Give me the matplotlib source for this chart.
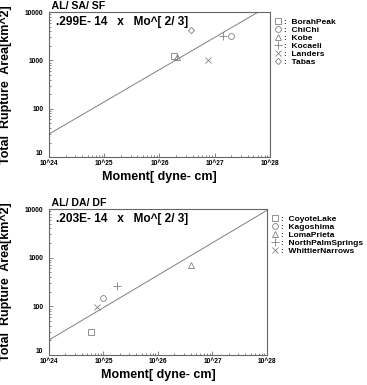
import numpy as np
import matplotlib
matplotlib.use("Agg")
import matplotlib.pyplot as plt
from matplotlib.ticker import LogLocator, FixedLocator

plt.rcParams['font.family'] = ['Liberation Sans', 'DejaVu Sans']
plt.rcParams['font.weight'] = 'bold'

# top panel: AL/SA/SF
top_names = ["BorahPeak", "ChiChi", "Kobe", "Kocaeli", "Landers", "Tabas"]
top_moment = [1.8e26, 1.95e27, 2.1e26, 1.4e27, 7.6e26, 3.7e26]
top_area = [1260, 3160, 1150, 3240, 1000, 4250]
top_coef = 0.299e-14

# bottom panel: AL/DA/DF
bot_names = ["CoyoteLake", "Kagoshima", "LomaPrieta", "NorthPalmSprings", "WhittierNarrows"]
bot_moment = [5.9e24, 1.0e25, 4.0e26, 1.8e25, 7.6e24]
bot_area = [29.5, 145, 720, 263, 98]
bot_coef = 0.203e-14

markers = ['s', 'o', '^', '+', 'x', 'D']
msizes = [4.2, 4.2, 4.2, 5.5, 5, 3.2]
gray = '#808080'

fig = plt.figure(figsize=(3.67, 3.85), dpi=100)


def panel(rect, title, formula, names, mo, area, coef):
    ax = fig.add_axes(rect)
    ax.set_xscale('log')
    ax.set_yscale('log')
    ax.set_xlim(1e24, 1e28)
    ax.set_ylim(10, 10000)
    m = np.logspace(24, 28, 100)
    ax.plot(m, coef * m ** (2.0 / 3.0), color=gray, lw=0.7)
    for i, nm in enumerate(names):
        ax.plot(mo[i], area[i], linestyle='none', marker=markers[i], ms=msizes[i],
                mfc='none', mec=gray, mew=0.6, label=':  ' + nm)
    ax.xaxis.set_major_locator(FixedLocator([1e24, 1e25, 1e26, 1e27, 1e28]))
    ax.set_xticklabels(['10^24', '10^25', '10^26', '10^27', '10^28'])
    ax.yaxis.set_major_locator(FixedLocator([10, 100, 1000, 10000]))
    ax.set_yticklabels(['10', '100', '1000', '10000'])
    ax.xaxis.set_minor_locator(LogLocator(base=10, subs=np.arange(2, 10)))
    ax.yaxis.set_minor_locator(LogLocator(base=10, subs=np.arange(2, 10)))
    ax.tick_params(which='both', direction='in', labelsize=4.8, width=0.5,
                   color='#555555', top=False, right=False)
    ax.tick_params(axis='x', pad=2)
    ax.tick_params(axis='y', pad=4)
    ax.tick_params(which='major', length=3)
    ax.tick_params(which='minor', length=1.5)
    for lab in ax.get_xticklabels() + ax.get_yticklabels():
        lab.set_fontweight('bold')
    # lowest y label sits just above the x labels, as in the original
    ax.get_yticklabels()[0].set_va('bottom')
    for s in ax.spines.values():
        s.set_color('#666666')
        s.set_linewidth(0.8)
    ax.set_xlabel('Moment[ dyne- cm]', fontsize=9, fontweight='bold', labelpad=3)
    ax.set_ylabel('Total  Rupture  Area[km^2]', fontsize=9, fontweight='bold', labelpad=9)
    ax.text(0.0, 1.008, ' ' + title, transform=ax.transAxes, fontsize=7.6,
            fontweight='bold', va='bottom', ha='left')
    ax.text(0.03, 0.97, formula, transform=ax.transAxes, fontsize=8.6,
            fontweight='bold', va='top', ha='left')
    ax.legend(loc='upper left', bbox_to_anchor=(1.01, 0.98), borderaxespad=0,
              frameon=False, handlelength=0.7, handletextpad=0.3, labelspacing=0.02,
              prop={'size': 6, 'weight': 'bold'})
    return ax


panel([0.1335, 0.592, 0.602, 0.3766], 'AL/ SA/ SF', '.299E- 14   x   Mo^[ 2/ 3]',
      top_names, top_moment, top_area, top_coef)
panel([0.1335, 0.078, 0.594, 0.379], 'AL/ DA/ DF', '.203E- 14   x   Mo^[ 2/ 3]',
      bot_names, bot_moment, bot_area, bot_coef)

fig.savefig('out.png', dpi=100)
